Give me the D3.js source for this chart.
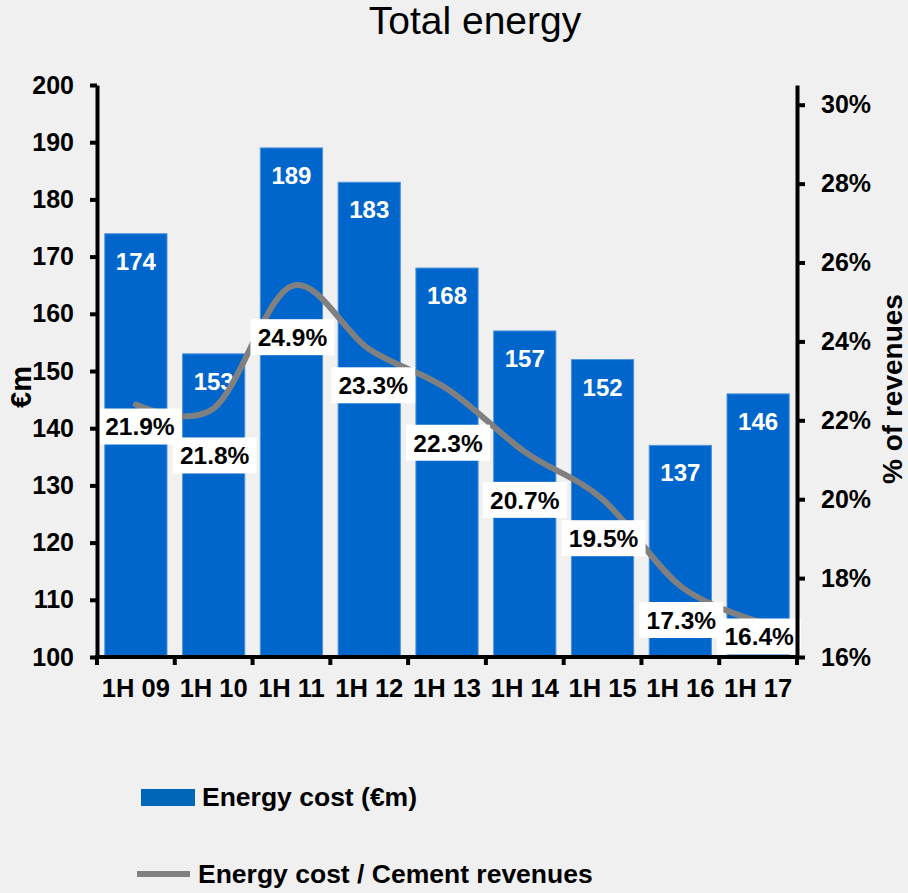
<!DOCTYPE html>
<html>
<head>
<meta charset="utf-8">
<script src="https://cdn.jsdelivr.net/npm/d3@7"></script>
<style>
  body { margin: 0; background: #f0f0f0; }
  text { font-family: "Liberation Sans", Arial, sans-serif; }
</style>
</head>
<body>
<div id="chart"></div>
<script>
let categories = ["1H 09", "1H 10", "1H 11", "1H 12", "1H 13", "1H 14", "1H 15", "1H 16", "1H 17"];
let energyCost = [174, 153, 189, 183, 168, 157, 152, 137, 146];
let costRatio = [21.9, 21.8, 24.9, 23.3, 22.3, 20.7, 19.5, 17.3, 16.4];
let leftTicks = [100, 110, 120, 130, 140, 150, 160, 170, 180, 190, 200];
let rightTicks = [16, 18, 20, 22, 24, 26, 28, 30];
let legendLabels = ["Energy cost (€m)", "Energy cost / Cement revenues"];

// label boxes were nudged by hand in the original, keep those offsets here
const labelDy = [22, 47, 51, 36, 54, 48, 39, 34, 15];
const labelDx = [4, 1, 1, 4, 1, 0, 1, 1, 1];

const W = 908, H = 893;
const pLeft = 97, pRight = 797, pTop = 85, pBottom = 657;

const svg = d3.select("#chart").append("svg")
  .attr("width", W).attr("height", H)
  .style("background", "#f0f0f0");

const x = d3.scaleBand().domain(categories).range([pLeft, pRight])
  .paddingInner(0.2).paddingOuter(0.1);
const y = d3.scaleLinear().domain([100, 200]).range([pBottom, pTop]);
const yR = d3.scaleLinear().domain([16, 30.5]).range([pBottom, pTop]);
// the plotted line sits half a point above the printed axis in the source
const yLine = d3.scaleLinear().domain([15.5, 30]).range([pBottom, pTop]);

// title
svg.append("text").attr("x", 475).attr("y", 34)
  .attr("text-anchor", "middle").style("font-size", "39px")
  .text("Total energy");

// bars
svg.selectAll(".bar").data(energyCost).enter().append("rect")
  .attr("class", "bar")
  .attr("x", (d, i) => x(categories[i]))
  .attr("y", d => y(d))
  .attr("width", x.bandwidth())
  .attr("height", d => y(100) - y(d))
  .attr("fill", "#0066cc")
  .attr("stroke", "#4f94dc").attr("stroke-width", 1);

svg.selectAll(".barLabel").data(energyCost).enter().append("text")
  .attr("x", (d, i) => x(categories[i]) + x.bandwidth() / 2)
  .attr("y", d => y(d) + 36)
  .attr("text-anchor", "middle")
  .style("font-size", "24px").style("font-weight", "bold")
  .attr("fill", "#fff")
  .text(d => d);

// ratio line
const line = d3.line()
  .x((d, i) => x(categories[i]) + x.bandwidth() / 2)
  .y(d => yLine(d))
  .curve(d3.curveCardinal.tension(0));
svg.append("path").datum(costRatio)
  .attr("d", line)
  .attr("fill", "none")
  .attr("stroke", "#808080").attr("stroke-width", 6)
  .attr("stroke-linecap", "round");

// ratio labels
const lab = svg.selectAll(".ratioLabel").data(costRatio).enter().append("g")
  .attr("transform", (d, i) => {
    let cx = x(categories[i]) + x.bandwidth() / 2 + labelDx[i];
    let cy = yLine(d) + labelDy[i];
    return `translate(${cx},${cy})`;
  });
lab.append("rect")
  .attr("x", -42).attr("y", -18)
  .attr("width", 84).attr("height", 36)
  .attr("fill", "#fff");
lab.append("text")
  .attr("text-anchor", "middle").attr("dy", "0.36em")
  .style("font-size", "24.5px").style("font-weight", "bold")
  .text(d => d.toFixed(1) + "%");

// axes
const styleAxis = g => {
  g.select(".domain").attr("stroke", "#000").attr("stroke-width", 4);
  g.selectAll(".tick line").attr("stroke", "#000").attr("stroke-width", 4);
  g.selectAll(".tick text").attr("fill", "#000")
    .style("font-size", "25px").style("font-weight", "bold")
    .style("font-family", '"Liberation Sans", Arial, sans-serif');
};

svg.append("g").attr("transform", `translate(${pLeft},0)`)
  .call(d3.axisLeft(y).tickValues(leftTicks).tickSize(7).tickSizeOuter(0).tickPadding(16))
  .call(styleAxis);

svg.append("g").attr("transform", `translate(${pRight},0)`)
  .call(d3.axisRight(yR).tickValues(rightTicks).tickSize(8).tickSizeOuter(0).tickPadding(16)
    .tickFormat(d => d + "%"))
  .call(styleAxis);

const xAxis = svg.append("g").attr("transform", `translate(0,${pBottom})`)
  .call(d3.axisBottom(x).tickSize(0).tickSizeOuter(0))
  .call(styleAxis);
xAxis.select(".domain").attr("d", `M${pLeft - 2},0H${pRight + 2}`);
xAxis.selectAll(".tick text").attr("y", 40).attr("dy", 0)
  .style("font-size", "25.5px");

// boundary ticks between categories
const bounds = categories.map(c => x(c) - x.step() * x.paddingInner() / 2);
bounds.push(pRight);
xAxis.selectAll(".bound").data(bounds).enter().append("line")
  .attr("x1", d => d).attr("x2", d => d)
  .attr("y1", 0).attr("y2", 8)
  .attr("stroke", "#000").attr("stroke-width", 4);

// axis titles
svg.append("text")
  .attr("transform", "translate(31,387) rotate(-90)")
  .attr("text-anchor", "middle")
  .style("font-size", "29px").style("font-weight", "bold")
  .text("€m");
svg.append("text")
  .attr("transform", "translate(902,389) rotate(-90)")
  .attr("text-anchor", "middle")
  .style("font-size", "28px").style("font-weight", "bold")
  .text("% of revenues");

// legend
svg.append("rect").attr("x", 141).attr("y", 789).attr("width", 54).attr("height", 17)
  .attr("fill", "#0066b8");
svg.append("text").attr("x", 202).attr("y", 806)
  .style("font-size", "26.5px").style("font-weight", "bold")
  .text(legendLabels[0]);
svg.append("line").attr("x1", 137).attr("x2", 190).attr("y1", 874).attr("y2", 874)
  .attr("stroke", "#808080").attr("stroke-width", 6);
svg.append("text").attr("x", 198).attr("y", 883)
  .style("font-size", "26.5px").style("font-weight", "bold")
  .text(legendLabels[1]);
</script>
</body>
</html>
